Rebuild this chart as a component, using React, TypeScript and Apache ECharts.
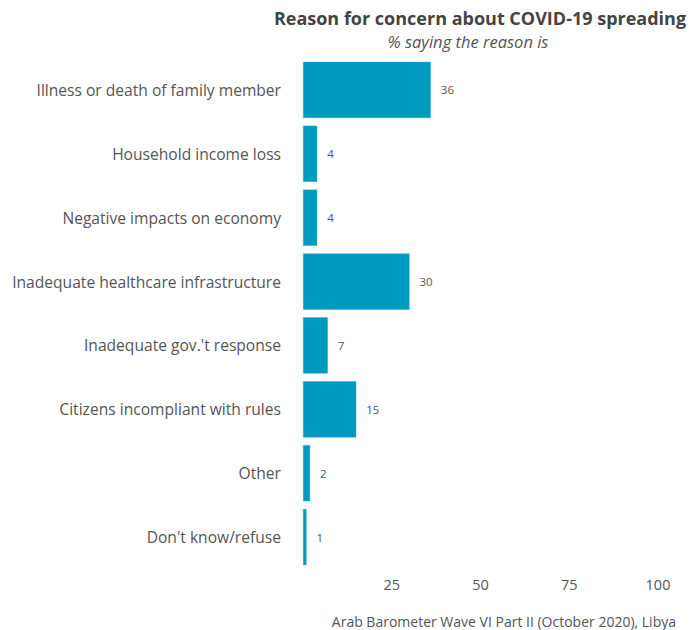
import React, { useEffect, useRef } from "react";
import * as echarts from "echarts";

const categories = [
  "Illness or death of family member",
  "Household income loss",
  "Negative impacts on economy",
  "Inadequate healthcare infrastructure",
  "Inadequate gov.'t response",
  "Citizens incompliant with rules",
  "Other",
  "Don't know/refuse",
];
const values = [36, 4, 4, 30, 7, 15, 2, 1];

const FONT = "'Open Sans', 'Noto Sans', sans-serif";

export default function App() {
  const ref = useRef<HTMLDivElement>(null);
  useEffect(() => {
    if (!ref.current) return;
    const chart = echarts.init(ref.current, null, { renderer: "svg" });
    chart.setOption({
      animation: false,
      backgroundColor: "#ffffff",
      textStyle: { fontFamily: FONT },
      grid: { left: 303, right: 41, top: 58, bottom: 61, containLabel: false },
      xAxis: {
        type: "value",
        min: 0,
        max: 100,
        interval: 25,
        axisLine: { show: false },
        axisTick: { show: false },
        splitLine: { show: false },
        axisLabel: {
          color: "#555555",
          fontSize: 14.5,
          margin: 8,
          fontFamily: FONT,
          formatter: (v: number) => (v === 0 ? "" : String(v)),
        },
      },
      yAxis: {
        type: "category",
        data: categories,
        inverse: true,
        axisLine: { show: false },
        axisTick: { show: false },
        axisLabel: { color: "#555555", fontSize: 15.6, margin: 22, fontFamily: FONT },
      },
      series: [
        {
          type: "bar",
          data: values,
          barWidth: "88%",
          itemStyle: { color: "#0099c0", borderColor: "#33b0d0", borderWidth: 0.5 },
          label: {
            show: true,
            position: "right",
            distance: 10,
            color: "#555555",
            fontSize: 11.5,
            fontFamily: FONT,
          },
        },
      ],
      graphic: [
        {
          type: "text",
          x: 480,
          y: 18,
          style: {
            text: "Reason for concern about COVID-19 spreading",
            fontSize: 18,
            fontWeight: "bold",
            fill: "#444444",
            fontFamily: FONT,
            align: "center",
            verticalAlign: "middle",
          },
        },
        {
          type: "text",
          x: 468,
          y: 41,
          style: {
            text: "% saying the reason is",
            fontSize: 16.5,
            fontStyle: "italic",
            fill: "#555555",
            fontFamily: FONT,
            align: "center",
            verticalAlign: "middle",
          },
        },
        {
          type: "text",
          x: 676,
          y: 621,
          style: {
            text: "Arab Barometer Wave VI Part II (October 2020), Libya",
            fontSize: 14,
            fill: "#555555",
            fontFamily: FONT,
            align: "right",
            verticalAlign: "middle",
          },
        },
      ],
    });
    return () => chart.dispose();
  }, []);
  return <div ref={ref} style={{ width: 699, height: 630, position: "absolute", left: 0, top: 0 }} />;
}
